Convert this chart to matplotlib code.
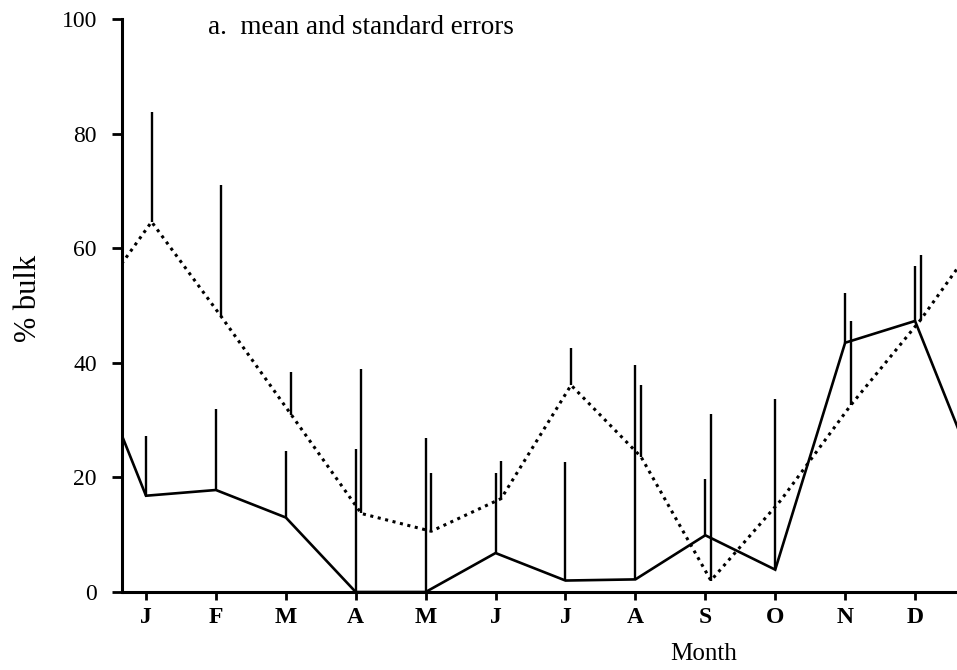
import numpy as np
import matplotlib
matplotlib.use("Agg")
import matplotlib.pyplot as plt

months = ["J", "F", "M", "A", "M", "J", "J", "A", "S", "O", "N", "D"]
solid_mean = [16.8, 17.8, 13.0, 0.0, 0.0, 6.8, 2.0, 2.2, 9.9, 3.9, 43.5, 47.3]
solid_se = [10.4, 14.2, 11.6, 24.9, 26.9, 13.9, 20.7, 37.5, 9.9, 29.7, 8.6, 9.6]
dotted_mean = [64.6, 48.0, 30.9, 13.7, 10.6, 16.3, 36.1, 23.6, 2.0, 16.0, 32.6, 47.5]
dotted_se = [19.2, 23.0, 7.5, 25.3, 10.1, 6.5, 6.5, 12.5, 29.0, 0.0, 14.7, 11.4]
yticks = [0, 20, 40, 60, 80, 100]

plt.rcParams['font.family'] = ['Liberation Serif', 'DejaVu Serif']

fig = plt.figure(figsize=(9.57, 6.70), dpi=100)
ax = fig.add_axes([122.5 / 957, 1 - 592 / 670, 1 - 122.5 / 957, (592 - 19) / 670])

x = np.arange(len(months))
off = 0.08

def wrap(v):
    v = np.asarray(v, dtype=float)
    return np.concatenate([[v[-1]], v, [v[0]]])

xe = np.arange(-1, len(months) + 1)

ax.plot(xe, wrap(solid_mean), color='black', lw=1.9, solid_joinstyle='miter', clip_on=True)
ax.plot(xe + off, wrap(dotted_mean), color='black', lw=2.2, linestyle=(0, (1, 1.5)), clip_on=True)

sm = np.array(solid_mean); ss = np.array(solid_se)
dm = np.array(dotted_mean); ds = np.array(dotted_se)
ax.vlines(x, sm, sm + ss, color='black', lw=1.7)
mask = ds > 0
ax.vlines((x + off)[mask], dm[mask], (dm + ds)[mask], color='black', lw=1.7)

ax.set_xlim(-0.336, 11.60)
ax.set_ylim(0, 100)
ax.set_xticks(x)
ax.set_xticklabels(months, fontsize=17, fontweight='bold')
ax.set_yticks(yticks)
ax.set_yticklabels([str(t) for t in yticks], fontsize=17)
ax.tick_params(axis='y', direction='out', length=7.5, width=2, pad=11)
ax.tick_params(axis='x', direction='out', length=6, width=2, pad=5)

for s in ['top', 'right']:
    ax.spines[s].set_visible(False)
for s in ['left', 'bottom']:
    ax.spines[s].set_linewidth(2.2)

fig.text(208 / 957, 1 - 27 / 670, "a.  mean and standard errors", fontsize=19.5,
         ha='left', va='center')
fig.text(28 / 957, 1 - 298 / 670, "% bulk", fontsize=22, rotation=90,
         ha='center', va='center')
fig.text(704 / 957, 1 - 654 / 670, "Month", fontsize=18, ha='center', va='center')

fig.savefig("out.png", dpi=100)
